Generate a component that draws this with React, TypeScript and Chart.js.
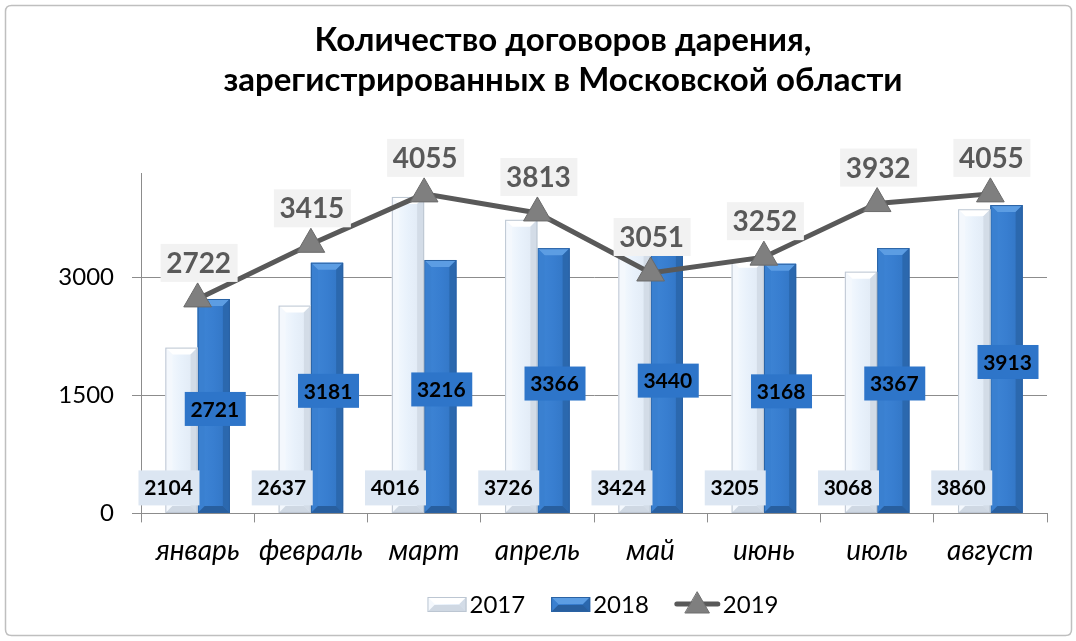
import React, { useEffect, useRef } from 'react';
import { Chart, registerables } from 'chart.js';

Chart.register(...registerables);

const categories = ['январь', 'февраль', 'март', 'апрель', 'май', 'июнь', 'июль', 'август'];
const values2017 = [2104, 2637, 4016, 3726, 3424, 3205, 3068, 3860];
const values2018 = [2721, 3181, 3216, 3366, 3440, 3168, 3367, 3913];
const values2019 = [2722, 3415, 4055, 3813, 3051, 3252, 3932, 4055];
const yTicks = [0, 1500, 3000];
const yMax = 4320;
const titleLines = ['Количество договоров дарения,', 'зарегистрированных в Московской области'];
const seriesNames = ['2017', '2018', '2019'];

const FONT = 'Lato, "Noto Sans", sans-serif';
const GRID = '#8c8c8c';

function roundRect(ctx: CanvasRenderingContext2D, x: number, y: number, w: number, h: number, r: number) {
  ctx.beginPath();
  ctx.moveTo(x + r, y);
  ctx.lineTo(x + w - r, y);
  ctx.quadraticCurveTo(x + w, y, x + w, y + r);
  ctx.lineTo(x + w, y + h - r);
  ctx.quadraticCurveTo(x + w, y + h, x + w - r, y + h);
  ctx.lineTo(x + r, y + h);
  ctx.quadraticCurveTo(x, y + h, x, y + h - r);
  ctx.lineTo(x, y + r);
  ctx.quadraticCurveTo(x, y, x + r, y);
  ctx.closePath();
}

function drawTriangle(ctx: CanvasRenderingContext2D, cx: number, cy: number, r: number, fill: string, stroke: string) {
  ctx.beginPath();
  for (let i = 0; i < 3; i++) {
    const a = (i * 2 * Math.PI) / 3;
    const px = cx + Math.sin(a) * r;
    const py = cy - Math.cos(a) * r;
    if (i === 0) ctx.moveTo(px, py);
    else ctx.lineTo(px, py);
  }
  ctx.closePath();
  ctx.fillStyle = fill;
  ctx.fill();
  ctx.strokeStyle = stroke;
  ctx.lineWidth = 1;
  ctx.stroke();
}

function drawBevelBar(ctx: CanvasRenderingContext2D, x: number, y: number, w: number, h: number, light: boolean) {
  const left = x - w / 2;
  const b = Math.min(7, w / 4, h / 2);
  const g = ctx.createLinearGradient(left, 0, left + w, 0);
  if (light) {
    g.addColorStop(0, '#f7fbff');
    g.addColorStop(0.5, '#e8f1fb');
    g.addColorStop(1, '#dfe8f3');
  } else {
    g.addColorStop(0, '#3f86d6');
    g.addColorStop(0.5, '#387ed0');
    g.addColorStop(1, '#3174c2');
  }
  ctx.fillStyle = g;
  ctx.fillRect(left, y, w, h);
  ctx.beginPath();
  ctx.moveTo(left, y);
  ctx.lineTo(left + w, y);
  ctx.lineTo(left + w - b, y + b);
  ctx.lineTo(left + b, y + b);
  ctx.closePath();
  ctx.fillStyle = light ? '#ffffff' : '#5c9de3';
  ctx.fill();
  ctx.beginPath();
  ctx.moveTo(left, y);
  ctx.lineTo(left + b, y + b);
  ctx.lineTo(left + b, y + h - b);
  ctx.lineTo(left, y + h);
  ctx.closePath();
  ctx.fillStyle = light ? '#f4f8fd' : '#3a80d0';
  ctx.fill();
  ctx.beginPath();
  ctx.moveTo(left + w, y);
  ctx.lineTo(left + w - b, y + b);
  ctx.lineTo(left + w - b, y + h - b);
  ctx.lineTo(left + w, y + h);
  ctx.closePath();
  ctx.fillStyle = light ? '#d3dce7' : '#2b68ae';
  ctx.fill();
  ctx.beginPath();
  ctx.moveTo(left, y + h);
  ctx.lineTo(left + b, y + h - b);
  ctx.lineTo(left + w - b, y + h - b);
  ctx.lineTo(left + w, y + h);
  ctx.closePath();
  ctx.fillStyle = light ? '#cfd8e3' : '#285f9f';
  ctx.fill();
  ctx.strokeStyle = light ? '#bcc6d2' : '#2a62a3';
  ctx.lineWidth = 1;
  ctx.strokeRect(left + 0.5, y + 0.5, w - 1, h - 1);
}

const decorPlugin = {
  id: 'decor',
  beforeDraw(chart: any) {
    const ctx = chart.ctx as CanvasRenderingContext2D;
    ctx.save();
    ctx.fillStyle = '#ffffff';
    ctx.fillRect(0, 0, chart.width, chart.height);
    roundRect(ctx, 5.5, 5.5, chart.width - 10, chart.height - 11, 6);
    ctx.strokeStyle = '#bfbfbf';
    ctx.lineWidth = 1.5;
    ctx.stroke();
    ctx.fillStyle = '#000000';
    ctx.font = `bold 33px ${FONT}`;
    ctx.textAlign = 'center';
    ctx.textBaseline = 'middle';
    ctx.fillText(titleLines[0], 563, 40);
    ctx.fillText(titleLines[1], 563, 80);
    ctx.restore();
  },
  afterDatasetDraw(chart: any, args: any) {
    const idx = args.index;
    if (idx > 1) return;
    const ctx = chart.ctx as CanvasRenderingContext2D;
    const meta = chart.getDatasetMeta(idx);
    ctx.save();
    meta.data.forEach((el: any) => {
      const top = Math.min(el.y, el.base);
      const h = Math.abs(el.base - el.y);
      drawBevelBar(ctx, el.x, top, el.width, h, idx === 0);
    });
    ctx.restore();
  },
  afterDatasetsDraw(chart: any) {
    const ctx = chart.ctx as CanvasRenderingContext2D;
    const area = chart.chartArea;
    ctx.save();
    ctx.textAlign = 'center';
    ctx.textBaseline = 'middle';
    const m0 = chart.getDatasetMeta(0);
    ctx.font = `bold 21px ${FONT}`;
    m0.data.forEach((el: any, i: number) => {
      const cx = el.x - 13;
      const cy = area.bottom - 26;
      ctx.fillStyle = '#dce6f2';
      ctx.fillRect(cx - 30, cy - 17, 61, 35);
      ctx.fillStyle = '#000000';
      ctx.fillText(String(values2017[i]), cx, cy + 1);
    });
    const m1 = chart.getDatasetMeta(1);
    m1.data.forEach((el: any, i: number) => {
      const cx = el.x + 1;
      const cy = (el.y + el.base) / 2 + 3;
      ctx.fillStyle = '#2e75c9';
      ctx.fillRect(cx - 30, cy - 17, 61, 34);
      ctx.fillStyle = '#000000';
      ctx.fillText(String(values2018[i]), cx, cy + 1);
    });
    const m2 = chart.getDatasetMeta(2);
    ctx.font = `bold 28px ${FONT}`;
    m2.data.forEach((el: any, i: number) => {
      const cx = el.x + 1;
      const cy = el.y - 36;
      ctx.fillStyle = '#f2f2f2';
      ctx.fillRect(cx - 38, cy - 19, 77, 38);
      ctx.fillStyle = '#595959';
      ctx.fillText(String(values2019[i]), cx, cy + 1);
    });
    ctx.restore();
  },
  afterDraw(chart: any) {
    const ctx = chart.ctx as CanvasRenderingContext2D;
    ctx.save();
    ctx.font = `24px ${FONT}`;
    ctx.textBaseline = 'middle';
    ctx.textAlign = 'left';
    const cy = 604;
    const iconW = [39, 39, 45];
    const gapIcon = 3;
    const gapItem = 26;
    let total = 0;
    seriesNames.forEach((s, i) => {
      total += iconW[i] + gapIcon + ctx.measureText(s).width + (i < 2 ? gapItem : 0);
    });
    let x = 603 - total / 2;
    seriesNames.forEach((s, i) => {
      if (i < 2) {
        drawBevelBar(ctx, x + iconW[i] / 2, cy - 7, iconW[i], 15, i === 0);
      } else {
        ctx.strokeStyle = '#595959';
        ctx.lineWidth = 5;
        ctx.lineCap = 'round';
        ctx.beginPath();
        ctx.moveTo(x + 2, cy);
        ctx.lineTo(x + iconW[i] - 2, cy);
        ctx.stroke();
        drawTriangle(ctx, x + iconW[i] / 2, cy + 2, 14, '#7f7f7f', '#6f6f6f');
      }
      x += iconW[i] + gapIcon;
      ctx.fillStyle = '#000000';
      ctx.fillText(s, x, cy + 1);
      x += ctx.measureText(s).width + gapItem;
    });
    ctx.restore();
  },
};

export default function App() {
  const ref = useRef<HTMLCanvasElement | null>(null);

  useEffect(() => {
    document.body.style.margin = '0';
    const canvas = ref.current;
    if (!canvas) return;
    const chart = new Chart(canvas, {
      type: 'bar',
      data: {
        labels: categories,
        datasets: [
          {
            type: 'bar',
            label: seriesNames[0],
            data: values2017,
            backgroundColor: 'rgba(0,0,0,0)',
            borderWidth: 0,
            order: 2,
            categoryPercentage: 0.57,
            barPercentage: 1,
          },
          {
            type: 'bar',
            label: seriesNames[1],
            data: values2018,
            backgroundColor: 'rgba(0,0,0,0)',
            borderWidth: 0,
            order: 2,
            categoryPercentage: 0.57,
            barPercentage: 1,
          },
          {
            type: 'line',
            label: seriesNames[2],
            data: values2019,
            borderColor: '#595959',
            borderWidth: 5,
            pointStyle: 'triangle',
            pointRadius: 16,
            pointBackgroundColor: '#7f7f7f',
            pointBorderColor: '#6a6a6a',
            pointBorderWidth: 1,
            tension: 0,
            order: 0,
          } as any,
        ],
      },
      options: {
        responsive: false,
        animation: false,
        layout: { padding: { left: 10, right: 29, top: 173, bottom: 61 } },
        plugins: {
          legend: { display: false },
          tooltip: { enabled: false },
          title: { display: false },
        },
        scales: {
          x: {
            offset: true,
            grid: {
              offset: true,
              drawOnChartArea: false,
              drawTicks: true,
              tickLength: 9,
              color: GRID,
            },
            border: { display: true, color: GRID },
            ticks: {
              color: '#000000',
              padding: 12,
              font: { family: FONT, size: 28, style: 'italic' },
            },
          },
          y: {
            min: 0,
            max: yMax,
            afterBuildTicks: (scale: any) => {
              scale.ticks = yTicks.map((v) => ({ value: v }));
            },
            afterFit: (scale: any) => {
              scale.width = 131;
            },
            grid: { color: GRID, tickLength: 9, drawTicks: true },
            border: { display: true, color: GRID },
            ticks: {
              color: '#000000',
              padding: 18,
              font: { family: FONT, size: 24 },
              callback: (v: any) => String(v),
            },
          },
        },
      },
      plugins: [decorPlugin],
    });
    return () => chart.destroy();
  }, []);

  return <canvas ref={ref} width={1076} height={641} style={{ display: 'block' }} />;
}
